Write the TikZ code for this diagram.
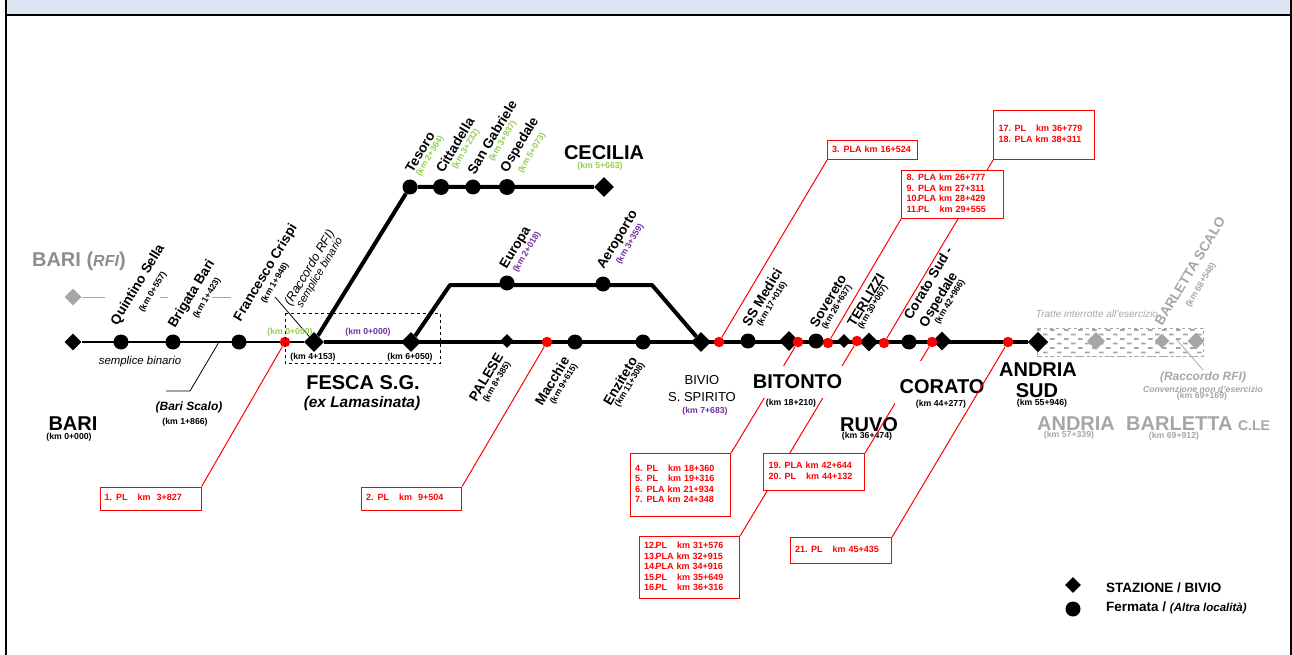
\documentclass[tikz,border=0pt]{standalone}
\usepackage{fontspec}
\setmainfont{Liberation Sans}
\usetikzlibrary{patterns,backgrounds,shapes.geometric}
\definecolor{lgreen}{HTML}{92D050}
\definecolor{lpurple}{HTML}{7030A0}
\definecolor{lred}{HTML}{FF0000}
\definecolor{lgrey}{HTML}{A6A6A6}
\definecolor{band}{HTML}{DCE6F2}
\newcommand{\fs}[1]{\fontsize{#1}{#1}\selectfont}
\newcommand{\plrow}[3]{\makebox[11.5pt][l]{#1}\makebox[21.5pt][l]{#2}km #3\\}
\renewcommand{\arraystretch}{1.17}
\pgfdeclarepatternformonly{brickdash}{\pgfqpoint{-1pt}{-1pt}}{\pgfqpoint{14pt}{9pt}}{\pgfqpoint{14pt}{9pt}}{%
  \pgfpathrectangle{\pgfqpoint{0pt}{0pt}}{\pgfqpoint{4.5pt}{1.8pt}}%
  \pgfpathrectangle{\pgfqpoint{7pt}{4.5pt}}{\pgfqpoint{4.5pt}{1.8pt}}%
  \pgfusepath{fill}}
\tikzset{
 x=1pt,y=-1pt,
 stz/.style={diamond,fill=black,inner sep=0pt,minimum size=#1},
 fer/.style={circle,fill=black,inner sep=0pt,minimum size=#1},
 pl/.style={circle,fill=lred,inner sep=0pt,minimum size=10.5pt},
 gstz/.style={diamond,fill=lgrey,inner sep=0pt,minimum size=#1},
 thinT/.style={line width=1.5pt,black},
 thickT/.style={line width=4pt,black},
 redl/.style={line width=1pt,lred},
 plbox/.style={draw=lred,line width=1.1pt,fill=white,text=lred,font=\bfseries\fs{9},
    align=left,anchor=north west,inner sep=0pt},
 stn/.style={font=\bfseries\fs{13.6},rotate=59,inner sep=0pt},
 km/.style={font=\bfseries\fs{8.7},inner sep=0pt},
 rkm/.style={font=\bfseries\fs{8.7},rotate=59,inner sep=0pt},
 big/.style={font=\bfseries\fs{20},inner sep=0pt},
}
\begin{document}
\begin{tikzpicture}
\useasboundingbox (0,0) rectangle (1292,655);
% frame
\fill[band] (6,0) rectangle (1291,15);
\draw[line width=2pt] (6,0) -- (6,655);
\draw[line width=1.2pt] (1291,0) -- (1291,655);
\draw[line width=2pt] (6,15) -- (1291,15);
% stations
\node[stz=17pt] (bari) at (73,342) {};
\node[fer=15pt] (quintino) at (121,342) {};
\node[fer=15pt] (brigata) at (173,342) {};
\node[fer=15pt] (crispi) at (239,342) {};
\node[stz=20pt] (fesca) at (314,342) {};
\node[stz=20pt] (b2) at (411,342) {};
\node[stz=14pt] (palese) at (507,341) {};
\node[fer=15pt] (macchie) at (575,342) {};
\node[fer=15pt] (enziteto) at (643,342) {};
\node[stz=20pt] (bivio) at (701,342) {};
\node[fer=15pt] (medici) at (748,341) {};
\node[stz=20pt] (bitonto) at (789,341) {};
\node[fer=15pt] (sovereto) at (816,341) {};
\node[stz=14pt] (terlizzi) at (844,341) {};
\node[stz=19pt] (ruvo) at (869,342) {};
\node[fer=15pt] (cosud) at (909,342) {};
\node[stz=19pt] (corato) at (942,341) {};
\node[stz=20pt] (andria) at (1038,342) {};
\node[fer=15pt] (tesoro) at (410,187) {};
\node[fer=16pt] (citta) at (441,187) {};
\node[fer=15pt] (sang) at (473,187) {};
\node[fer=16pt] (osped) at (507,187) {};
\node[stz=20pt] (cecilia) at (604,187) {};
\node[fer=15pt] (europa) at (507,283) {};
\node[fer=15pt] (aero) at (603,284) {};
% level crossings
\node[pl] (p1) at (285,342) {};
\node[pl] (p2) at (547,342) {};
\node[pl] (p3) at (719,342) {};
\node[pl] (p4) at (798,342) {};
\node[pl] (p8) at (828,343) {};
\node[pl] (p12) at (857,341) {};
\node[pl] (p17) at (884,343) {};
\node[pl] (p19) at (932,342) {};
\node[pl] (p21) at (1008,342) {};
% boxes
\node[plbox,text width=101pt,minimum height=23pt] (b1) at (99.5,486.5)
  {\hspace*{4.5pt}\begin{tabular}{@{}l@{}}\plrow{1.}{PL}{\ 3+827}\end{tabular}};
\node[plbox,text width=100pt,minimum height=23pt] (bx2) at (361,486.5)
  {\hspace*{4.5pt}\begin{tabular}{@{}l@{}}\plrow{2.}{PL}{\ 9+504}\end{tabular}};
\node[plbox,text width=90pt,minimum height=19pt] (b3) at (827,140)
  {\hspace*{4.5pt}\begin{tabular}{@{}l@{}}\makebox[11.5pt][l]{3.}PLA km 16+524\end{tabular}};
\node[plbox,text width=102pt,minimum height=48pt] (b8) at (901,170)
  {\hspace*{5pt}\begin{tabular}{@{}l@{}}\makebox[11.5pt][l]{8.}PLA km 26+777\\\makebox[11.5pt][l]{9.}PLA km 27+311\\\makebox[11.5pt][l]{10.}PLA km 28+429\\\plrow{11.}{PL}{29+555}\end{tabular}};
\node[plbox,text width=101pt,minimum height=49pt] (b17) at (993,110)
  {\hspace*{5pt}\begin{tabular}{@{}l@{}}\makebox[16pt][l]{17.}\makebox[21.5pt][l]{PL}km 36+779\\\makebox[16pt][l]{18.}PLA km 38+311\end{tabular}};
\node[plbox,text width=100pt,minimum height=63pt] (b4) at (630,453)
  {\hspace*{4.5pt}\begin{tabular}{@{}l@{}}\plrow{4.}{PL}{18+360}\plrow{5.}{PL}{19+316}\makebox[11.5pt][l]{6.}PLA km 21+934\\\makebox[11.5pt][l]{7.}PLA km 24+348\end{tabular}};
\node[plbox,text width=101pt,minimum height=37pt] (b19) at (763,453)
  {\hspace*{5pt}\begin{tabular}{@{}l@{}}\makebox[16pt][l]{19.}PLA km 42+644\\\makebox[16pt][l]{20.}\makebox[21.5pt][l]{PL}km 44+132\end{tabular}};
\node[plbox,text width=100pt,minimum height=62pt] (b12) at (639,536)
  {\hspace*{4.5pt}\begin{tabular}{@{}l@{}}\plrow{12.}{PL}{31+576}\makebox[11.5pt][l]{13.}PLA km 32+915\\\makebox[11.5pt][l]{14.}PLA km 34+916\\\plrow{15.}{PL}{35+649}\plrow{16.}{PL}{36+316}\end{tabular}};
\node[plbox,text width=101pt,minimum height=26pt] (b21) at (790,537)
  {\hspace*{4.5pt}\begin{tabular}{@{}l@{}}\makebox[16pt][l]{21.}\makebox[21.5pt][l]{PL}km 45+435\end{tabular}};
\begin{scope}[on background layer]
 % tracks
 \draw[thinT] (bari) -- (fesca);
 \draw[thickT] (fesca) -- (andria);
 \draw[thickT,line join=round] (fesca) -- (tesoro) -- (cecilia);
 \coordinate (e1) at (450,285);
 \coordinate (e2) at (652,285);
 \draw[thickT,line join=round] (b2) -- (e1) -- (e2) -- (bivio);
 % RUVO under the red line
 \node[big] (truvo) at (869,425) {RUVO};
 \node[km] (kruvo) at (867,436) {(km 36+474)};
 % red connectors
 \draw[redl] (b1.north east) -- (p1);
 \draw[redl] (bx2.north east) -- (p2);
 \draw[redl] (b3.south west) -- (p3);
 \draw[redl] (b4.north east) -- (p4);
 \draw[redl] (b8.south west) -- (p8);
 \draw[redl] (b12.north east) -- (p12);
 \draw[redl] (b17.south west) -- (p17);
 \draw[redl] (b19.north east) -- (p19);
\end{scope}
% pointers
\coordinate (sb1) at (219,342);
\coordinate (sb2) at (190,391);
\coordinate (sb3) at (166,391);
\draw[black,line width=.8pt] (sb1) -- (sb2) -- (sb3);
\coordinate (rf) at (275,297);
\draw[black,line width=.8pt] (rf) -- (fesca);
% dashed box
\coordinate (da) at (285,313);
\coordinate (db) at (440,363.5);
\draw[black,dashed,line width=.9pt] (da) rectangle (db);
% grey part
\node[gstz=17pt] (gbari) at (73,297) {};
\coordinate (g1) at (105,297);
\coordinate (g2) at (160,297);
\coordinate (g3) at (168,297);
\coordinate (g4) at (212,297);
\coordinate (g5) at (231,297);
\draw[lgrey,line width=1pt] (gbari) -- (g1) (g2) -- (g3) (g4) -- (g5);
\coordinate (h1) at (1037,328);
\coordinate (h2) at (1203,356);
\fill[pattern=brickdash,pattern color=lgrey] (h1) rectangle (h2);
\draw[lgrey,dashed,line width=.8pt] (h1) rectangle (h2);
\node[gstz=18pt] (g57) at (1096,341) {};
\node[gstz=15pt] (g68) at (1162,341) {};
\node[gstz=17pt] (g69) at (1196,341) {};
\coordinate (gp1) at (1177,340);
\coordinate (gp2) at (1203,370);
\draw[lgrey,line width=.8pt] (gp1) -- (gp2);
\node[stz=20pt] (andria2) at (andria) {};
\node[font=\bfseries\fs{20},text=lgrey!85!black,inner sep=0pt] (tbrfi) at (79,261) {BARI (\textit{\fs{16}RFI})};
% labels
\node[stn] (n1) at (138,285) {Quintino Sella};
\node[rkm] (k1) at (153,292) {(km 0+557)};
\node[stn] (n2) at (192,294) {Brigata Bari};
\node[rkm] (k2) at (207,298) {(km 1+423)};
\node[stn] (n3) at (266,273) {Francesco Crispi};
\node[rkm] (k3) at (275,283) {(km 1+948)};
\node[font=\itshape\fs{12.5},rotate=59,inner sep=0pt] (r1) at (310,268) {(Raccordo RFI)};
\node[font=\itshape\fs{11},rotate=59,inner sep=0pt] (r2) at (320,273) {semplice binario};
\node[font=\itshape\fs{11.4},inner sep=0pt] (sb) at (140,362) {semplice binario};
\node[big] (tbari) at (73,424) {BARI};
\node[km] (kbari) at (69,437) {(km 0+000)};
\node[font=\bfseries\itshape\fs{12},inner sep=0pt] (bs) at (189,407) {(Bari Scalo)};
\node[km] (kbs) at (185,422) {(km 1+866)};
\node[km,text=lgreen] (k00a) at (290,332) {(km 0+000)};
\node[km,text=lpurple] (k00b) at (368,332) {(km 0+000)};
\node[km] (k41) at (313,357) {(km 4+153)};
\node[km] (k60) at (410,357) {(km 6+050)};
\node[big] (tf) at (363,383) {FESCA S.G.};
\node[font=\bfseries\itshape\fs{15.4},inner sep=0pt] (tf2) at (362,404) {(ex Lamasinata)};
\node[stn] (n4) at (420,152) {Tesoro};
\node[rkm,text=lgreen] (k4) at (430,156) {(km 2+364)};
\node[stn] (n5) at (455,145) {Cittadella};
\node[rkm,text=lgreen] (k5) at (466,149) {(km 3+232)};
\node[stn] (n6) at (492,137) {San Gabriele};
\node[rkm,text=lgreen] (k6) at (503,141) {(km 3+937)};
\node[stn] (n7) at (520,145) {Ospedale};
\node[rkm,text=lgreen] (k7) at (532,153) {(km 5+073)};
\node[big] (tc) at (604,153) {CECILIA};
\node[km,text=lgreen] (kc) at (600,166) {(km 5+663)};
\node[stn] (n8) at (516,248) {Europa};
\node[rkm,text=lpurple] (k8) at (527,252) {(km 2+018)};
\node[stn] (n9) at (618,240) {Aeroporto};
\node[rkm,text=lpurple] (k9) at (630,244) {(km 3+359)};
\node[stn] (n10) at (486,377) {PALESE};
\node[rkm] (k10) at (497,382) {(km 8+385)};
\node[stn] (n11) at (552,381) {Macchie};
\node[rkm] (k11) at (564,384) {(km 9+615)};
\node[stn] (n12) at (620,381) {Enziteto};
\node[rkm] (k12) at (630,385) {(km 11+308)};
\node[font=\fs{13},inner sep=0pt] (tb1) at (702,380) {BIVIO};
\node[font=\fs{13},inner sep=0pt] (tb2) at (702,397) {S. SPIRITO};
\node[km,text=lpurple] (tb3) at (705,411) {(km 7+683)};
\node[stn] (n13) at (762,297) {SS Medici};
\node[rkm] (k13) at (772,304) {(km 17+016)};
\node[stn] (n14) at (828,301) {Sovereto};
\node[rkm] (k14) at (837,307) {(km 26+637)};
\node[stn] (n15) at (866,300) {TERLIZZI};
\node[rkm] (k15) at (873,307) {(km 30+067)};
\node[stn] (n16) at (928,283) {Corato Sud -};
\node[stn] (n17) at (939,300) {Ospedale};
\node[rkm] (k16) at (950,302) {(km 42+966)};
\node[big,fill=white,minimum width=95pt,minimum height=32pt] (tbit) at (797.5,382) {BITONTO};
\node[km] (kbit) at (791,403) {(km 18+210)};
\node[big,fill=white,minimum width=95pt,minimum height=49pt] (tcor) at (942,385.5) {};
\node[big] (tcor2) at (942,387) {CORATO};
\node[km] (kcor) at (941,404) {(km 44+277)};
\draw[redl] (b21.north east) -- (p21);
\node[big] (ta1) at (1038,370) {ANDRIA};
\node[big] (ta2) at (1037,391) {SUD};
\node[km] (ka) at (1042,403) {(km 55+946)};
% grey labels
\node[font=\itshape\fs{10},text=lgrey,inner sep=0pt] (gt) at (1097,314) {Tratte interrotte all'esercizio};
\node[stn,text=lgrey] (gbs) at (1190,271) {BARLETTA SCALO};
\node[rkm,text=lgrey] (gkbs) at (1201,285) {(km 68+548)};
\node[font=\bfseries\itshape\fs{12},text=lgrey,inner sep=0pt] (gr) at (1203,377) {(Raccordo RFI)};
\node[font=\bfseries\itshape\fs{8.7},text=lgrey,inner sep=0pt] (gc) at (1203,389) {Convenzione non d'esercizio};
\node[km,text=lgrey] (gk) at (1202,396) {(km 69+169)};
\node[big,text=lgrey] (ga) at (1076,424) {ANDRIA};
\node[km,text=lgrey] (gka) at (1069,435) {(km 57+339)};
\node[big,text=lgrey,anchor=west] (gb) at (1126,424) {BARLETTA \fs{14}C.LE};
\node[km,text=lgrey] (gkb) at (1174,436) {(km 69+912)};
% legend
\node[stz=16pt] (l1) at (1073,585) {};
\node[fer=15pt] (l2) at (1073,609) {};
\node[font=\bfseries\fs{13.5},anchor=west,inner sep=0pt] (l1t) at (1106,588) {STAZIONE / BIVIO};
\node[font=\bfseries\fs{13.5},anchor=west,inner sep=0pt] (l2t) at (1106,608) {Fermata / \textit{\fs{11.5}(Altra località)}};
\end{tikzpicture}
\end{document}
